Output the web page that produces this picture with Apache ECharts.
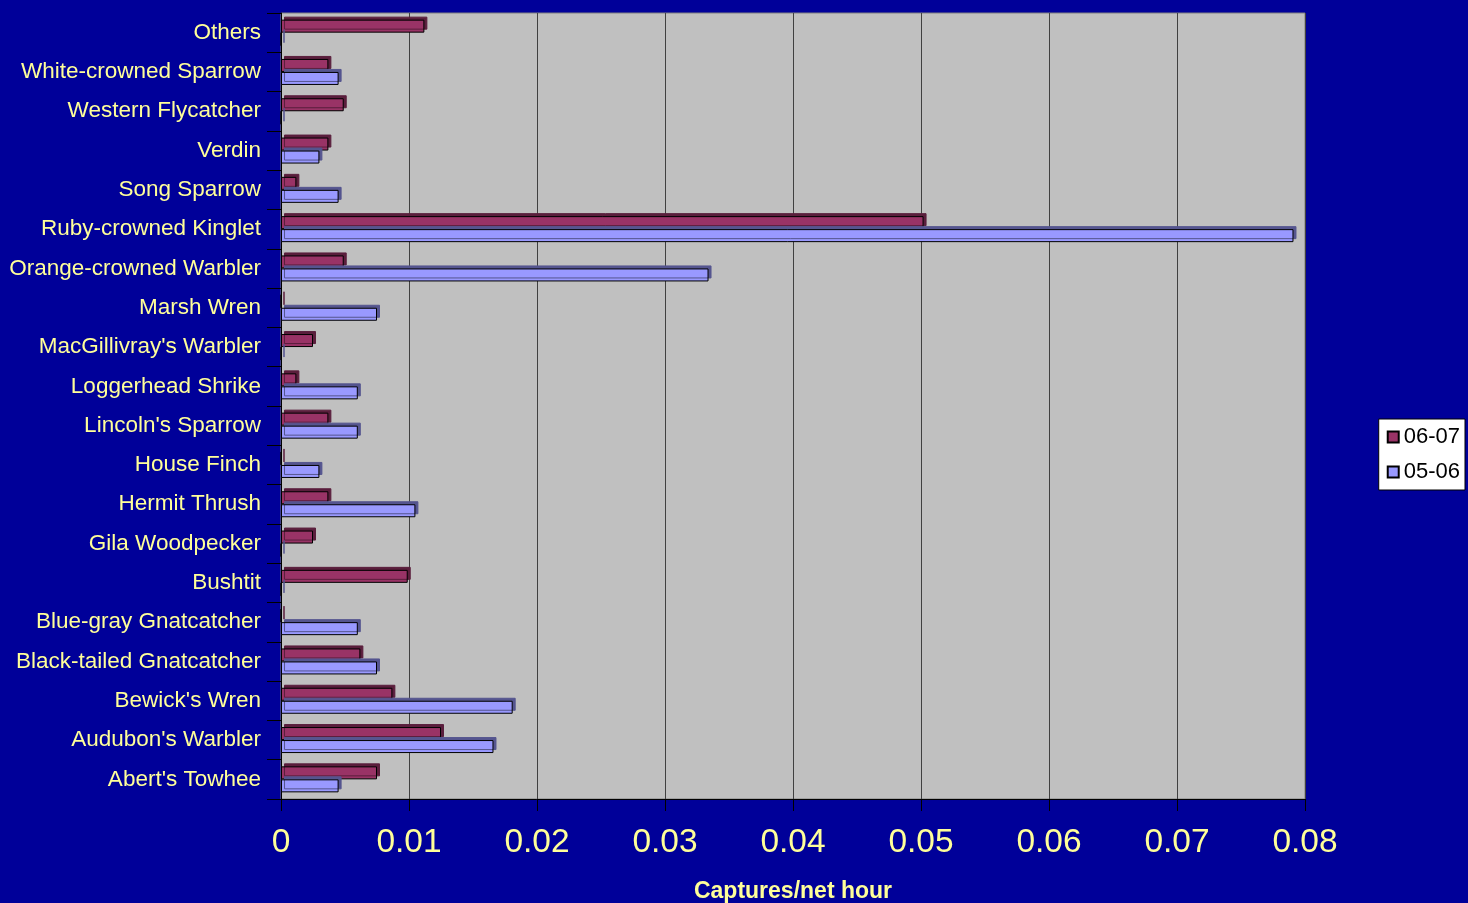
<!DOCTYPE html>
<html>
<head>
<meta charset="utf-8">
<script src="https://cdn.jsdelivr.net/npm/echarts@6/dist/echarts.min.js"></script>
<style>
html,body{margin:0;padding:0;background:#000099;}
#chart{width:1468px;height:903px;}
</style>
</head>
<body>
<div id="chart"></div>
<script>
const categories = ["Abert's Towhee","Audubon's Warbler","Bewick's Wren","Black-tailed Gnatcatcher","Blue-gray Gnatcatcher","Bushtit","Gila Woodpecker","Hermit Thrush","House Finch","Lincoln's Sparrow","Loggerhead Shrike","MacGillivray's Warbler","Marsh Wren","Orange-crowned Warbler","Ruby-crowned Kinglet","Song Sparrow","Verdin","Western Flycatcher","White-crowned Sparrow","Others"];
const series0607 = [0.0075,0.0125,0.0087,0.0062,0,0.0099,0.0025,0.0037,0,0.0037,0.0012,0.0025,0,0.0049,0.0502,0.0012,0.0037,0.0049,0.0037,0.0112];
const series0506 = [0.0045,0.0166,0.0181,0.0075,0.006,0,0,0.0105,0.003,0.006,0.006,0,0.0075,0.0334,0.0791,0.0045,0.003,0,0.0045,0];
const xTicks = [0,0.01,0.02,0.03,0.04,0.05,0.06,0.07,0.08];

const chart = echarts.init(document.getElementById('chart'));
const font = '"Liberation Sans", Arial, sans-serif';
chart.setOption({
  backgroundColor: '#000099',
  animation: false,
  grid: {left: 281, right: 163, top: 13, bottom: 104, containLabel: false, outerBoundsMode: 'none',
         show: true, backgroundColor: '#C0C0C0', borderColor: '#808080', borderWidth: 1},
  legend: {
    data: ['06-07','05-06'],
    orient: 'vertical', right: 3, top: 419,
    backgroundColor: '#FFFFFF', borderColor: '#000', borderWidth: 1,
    padding: [7, 5, 7, 8], itemGap: 13,
    itemWidth: 11, itemHeight: 11, icon: 'rect',
    textStyle: {fontFamily: font, fontSize: 22, color: '#000'}
  },
  xAxis: {
    type: 'value', min: 0, max: 0.08, interval: 0.01,
    name: 'Captures/net hour', nameLocation: 'middle', nameGap: 81,
    nameTextStyle: {fontFamily: font, fontSize: 23, fontWeight: 'bold', color: '#FFFF99'},
    axisLine: {show: true, lineStyle: {color: '#000', width: 1}},
    axisTick: {show: true, length: 12, lineStyle: {color: '#000'}},
    axisLabel: {margin: 27, fontFamily: font, fontSize: 33.5, color: '#FFFF99',
      formatter: v => { const t = xTicks.find(x => Math.abs(x - v) < 1e-9); return t === undefined ? '' : String(t); }},
    splitLine: {show: true, lineStyle: {color: '#404040', width: 1}}
  },
  yAxis: {
    type: 'category', data: categories,
    axisLine: {show: true, lineStyle: {color: '#000', width: 1}},
    axisTick: {show: true, length: 14, lineStyle: {color: '#000'}},
    axisLabel: {margin: 20, fontFamily: font, fontSize: 22.5, color: '#FFFF99'}
  },
  series: [
    {name: '06-07', type: 'bar', data: series0607, barWidth: 13, barGap: '0%',
     itemStyle: {color: '#993366', borderColor: '#000', borderWidth: 1, shadowColor: '#5A1E3C', shadowOffsetX: 3, shadowOffsetY: -3, shadowBlur: 0}},
    {name: '05-06', type: 'bar', data: series0506, barWidth: 13, barGap: '0%',
     itemStyle: {color: '#9999FF', borderColor: '#000', borderWidth: 1, shadowColor: '#55558F', shadowOffsetX: 3, shadowOffsetY: -3, shadowBlur: 0}}
  ]
});
</script>
</body>
</html>
